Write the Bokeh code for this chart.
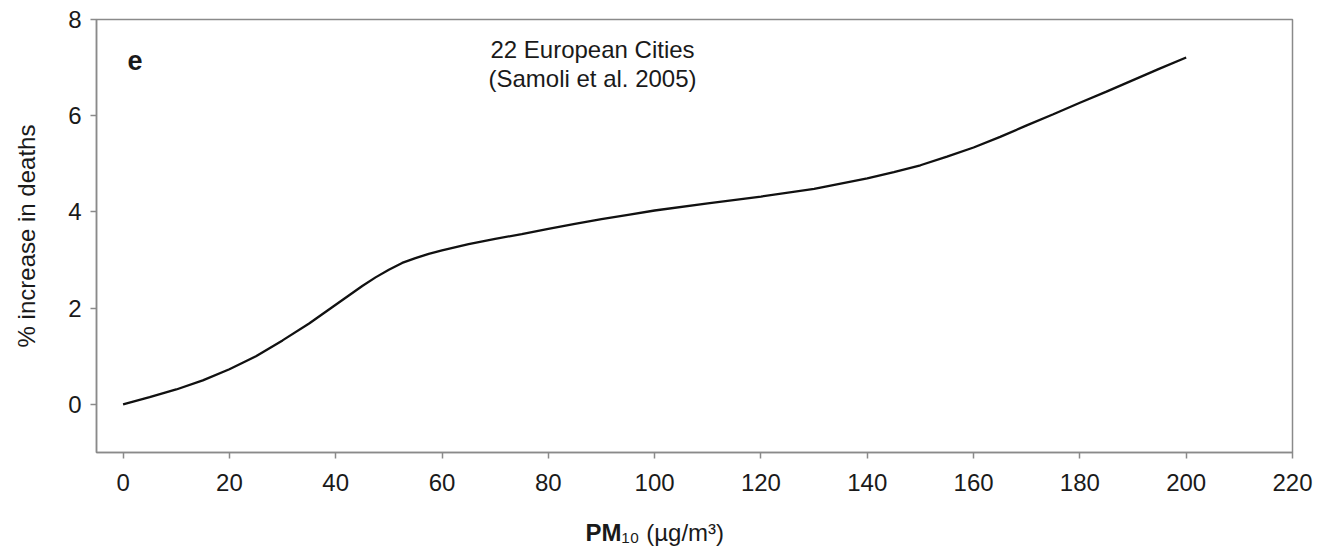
from bokeh.plotting import figure
from bokeh.models import Label, FixedTicker, Range1d
from bokeh.embed import file_html
from bokeh.resources import INLINE

# ---- data ----
pm10 = [0, 5, 10, 15, 20, 25, 30, 35, 40, 45, 47.5, 50, 52.5, 55, 57.5, 60, 65, 70, 75, 80,
        85, 90, 95, 100, 110, 120, 130, 140, 145, 150, 155, 160, 165, 170, 175, 180, 185,
        190, 195, 200]
increase = [0.0, 0.15, 0.31, 0.5, 0.73, 1.0, 1.33, 1.68, 2.07, 2.46, 2.64, 2.8, 2.94, 3.04,
            3.13, 3.2, 3.33, 3.44, 3.54, 3.65, 3.75, 3.85, 3.94, 4.03, 4.18, 4.32, 4.48,
            4.7, 4.83, 4.97, 5.15, 5.34, 5.56, 5.8, 6.03, 6.27, 6.5, 6.74, 6.98, 7.21]
x_ticks = [0, 20, 40, 60, 80, 100, 120, 140, 160, 180, 200, 220]
y_ticks = [0, 2, 4, 6, 8]

FONT = "Liberation Sans"
AX = "#8a8a8a"
TXT = "#1a1a1a"

XMIN, XMAX = -5, 220
YMIN, YMAX = -1, 8
W, H = 1317, 552
FL, FR, FT, FB = 96, 1292, 19, 452  # frame edges in canvas pixels
SHIFT = 8                           # rendered baseline sits this much below the anchor


def dx(px):
    return XMIN + (px - FL) * (XMAX - XMIN) / (FR - FL)


def dy(py):
    return YMAX - (py - SHIFT - FT) * (YMAX - YMIN) / (FB - FT)


p = figure(frame_width=FR - FL, frame_height=FB - FT,
           output_backend="svg", toolbar_location=None,
           x_range=Range1d(XMIN, XMAX), y_range=Range1d(YMIN, YMAX),
           min_border_left=FL, min_border_right=W - FR,
           min_border_top=FT, min_border_bottom=H - FB)

p.background_fill_color = "white"
p.border_fill_color = "white"
p.outline_line_color = AX
p.outline_line_width = 1.5
p.grid.visible = False

p.line(pm10, increase, line_color="#111111", line_width=2.3)

for ax in (p.xaxis[0], p.yaxis[0]):
    ax.axis_line_color = AX
    ax.axis_line_width = 1.5
    ax.major_tick_line_color = AX
    ax.major_tick_line_width = 1.5
    ax.major_tick_out = 6
    ax.major_tick_in = 0
    ax.minor_tick_line_color = None
    ax.major_label_text_font = FONT
    ax.major_label_text_font_size = "24px"
    ax.major_label_text_color = TXT
    ax.axis_label_text_font = FONT
    ax.axis_label_text_font_style = "normal"
    ax.axis_label_text_font_size = "24px"
    ax.axis_label_text_color = TXT

p.xaxis[0].ticker = FixedTicker(ticks=x_ticks)
p.yaxis[0].ticker = FixedTicker(ticks=y_ticks)
p.xaxis[0].major_label_standoff = 15
p.yaxis[0].major_label_standoff = 9
p.yaxis[0].axis_label = "% increase in deaths"
p.yaxis[0].axis_label_standoff = 25


def lab(text, px, py, size, style="normal", align="left", place=None):
    l = Label(x=dx(px), y=dy(py), text=text, text_font=FONT,
              text_font_size=size, text_font_style=style,
              text_color=TXT, text_align=align, text_baseline="alphabetic")
    if place:
        p.add_layout(l, place)
    else:
        p.add_layout(l)


# panel letter and annotation
lab("e", 127, 68, "27px", "bold")
lab("22 European Cities", 592, 57, "24px", align="center")
lab("(Samoli et al. 2005)", 592, 86, "24px", align="center")

# x axis title: PM10 (µg/m3), drawn in the panel below the axis
lab("PM", 585, 540, "24px", "bold", place="below")
lab("\u2081\u2080 (\u00b5g/m\u00b3)", 621, 540, "24px", place="below")

open("out.html", "w").write(file_html(p, INLINE))
